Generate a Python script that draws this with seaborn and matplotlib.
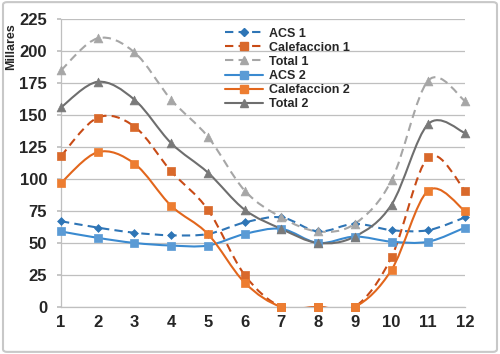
import numpy as np
import matplotlib
matplotlib.use("Agg")
import matplotlib.pyplot as plt
import seaborn as sns
from matplotlib.path import Path
from matplotlib.patches import PathPatch, FancyBboxPatch
from matplotlib.lines import Line2D

# datos (miles)
meses = list(range(1, 13))
acs_1 = [67, 62, 58, 56, 57, 66, 70, 59, 65, 60, 60, 70]
calef_1 = [118, 148, 141, 106, 76, 25, 0, 0, 0, 39, 117, 91]
total_1 = [185, 210, 199, 162, 133, 91, 70, 59, 65, 99, 177, 161]
acs_2 = [59, 54, 50, 48, 48, 57, 61, 50, 55, 51, 51, 62]
calef_2 = [97, 121, 112, 79, 57, 19, 0, 0, 0, 29, 91, 75]
total_2 = [156, 176, 162, 128, 105, 76, 61, 50, 55, 80, 143, 136]
y_ticks = [0, 25, 50, 75, 100, 125, 150, 175, 200, 225]

sns.set_theme(style="white")
plt.rcParams['font.family'] = ['Liberation Sans', 'DejaVu Sans']


def curva(x, y):
    # linea suavizada estilo Excel (Bezier tipo Catmull-Rom)
    p = np.column_stack([x, y]).astype(float)
    n = len(p)
    verts = [p[0]]
    codes = [Path.MOVETO]
    for i in range(n - 1):
        p0 = p[max(i - 1, 0)]
        p1 = p[i]
        p2 = p[i + 1]
        p3 = p[min(i + 2, n - 1)]
        verts += [p1 + (p2 - p0) / 6, p2 - (p3 - p1) / 6, p2]
        codes += [Path.CURVE4] * 3
    return Path(verts, codes)


dash = (0, (4, 2.5))
series = [
    ("ACS 1", acs_1, "#2E75B6", dash, "D", 16, "#2E75B6"),
    ("Calefaccion 1", calef_1, "#C84B16", dash, "s", 36, "#D9692B"),
    ("Total 1", total_1, "#A6A6A6", dash, "^", 40, "#A6A6A6"),
    ("ACS 2", acs_2, "#3A8AD0", "-", "s", 36, "#5B9BD5"),
    ("Calefaccion 2", calef_2, "#E2661C", "-", "s", 36, "#ED7D31"),
    ("Total 2", total_2, "#6E6E6E", "-", "^", 40, "#7A7A7A"),
]

fig = plt.figure(figsize=(5, 3.54), dpi=100)
ax = fig.add_axes([0.122, 0.133, 0.808, 0.813])

handles = []
for nombre, vals, col, ls, mk, sz, mcol in series:
    patch = PathPatch(curva(meses, vals), fill=False, edgecolor=col, lw=1.5,
                      linestyle=ls, zorder=2)
    ax.add_patch(patch)
    sns.scatterplot(x=meses, y=vals, marker=mk, s=sz, color=mcol,
                    edgecolor=mcol, linewidth=0.5, zorder=3, clip_on=False,
                    legend=False, ax=ax)
    handles.append(Line2D([], [], color=col, lw=1.5, linestyle=ls, marker=mk,
                          markersize=5.5 if mk != "D" else 4,
                          markerfacecolor=mcol, markeredgecolor=mcol))

ax.set_xlim(1, 12)
ax.set_ylim(0, 225)
ax.set_xticks(meses)
ax.set_yticks(y_ticks)
ax.yaxis.grid(True, color="#BFBFBF", lw=0.9)
ax.set_axisbelow(True)
for lado in ["top", "right"]:
    ax.spines[lado].set_visible(False)
for lado in ["left", "bottom"]:
    ax.spines[lado].set_color("#BFBFBF")
    ax.spines[lado].set_linewidth(0.9)
ax.tick_params(axis="x", direction="in", length=4, color="#BFBFBF", pad=6,
               labelsize=12)
ax.tick_params(axis="y", direction="out", length=3, color="#BFBFBF", pad=7,
               labelsize=12, left=True)
for t in ax.get_xticklabels() + ax.get_yticklabels():
    t.set_fontweight("bold")

fig.text(0.022, 1 - 47 / 354, "Millares", rotation=90, ha="center",
         va="center", fontsize=9, fontweight="bold")

ax.legend(handles, [s[0] for s in series], loc="upper left",
          bbox_to_anchor=(0.45, 0.922), bbox_transform=fig.transFigure,
          frameon=False, borderpad=0, borderaxespad=0, handlelength=3.0,
          handletextpad=0.5, labelspacing=0.17,
          prop={"weight": "bold", "size": 9})

fig.patches.append(FancyBboxPatch((0.006, 0.006), 0.988, 0.988,
                                  boxstyle="round,pad=0,rounding_size=0.008",
                                  transform=fig.transFigure, fill=False,
                                  ec="#C8C8C8", lw=1.5))

fig.savefig("out.png", dpi=100)
